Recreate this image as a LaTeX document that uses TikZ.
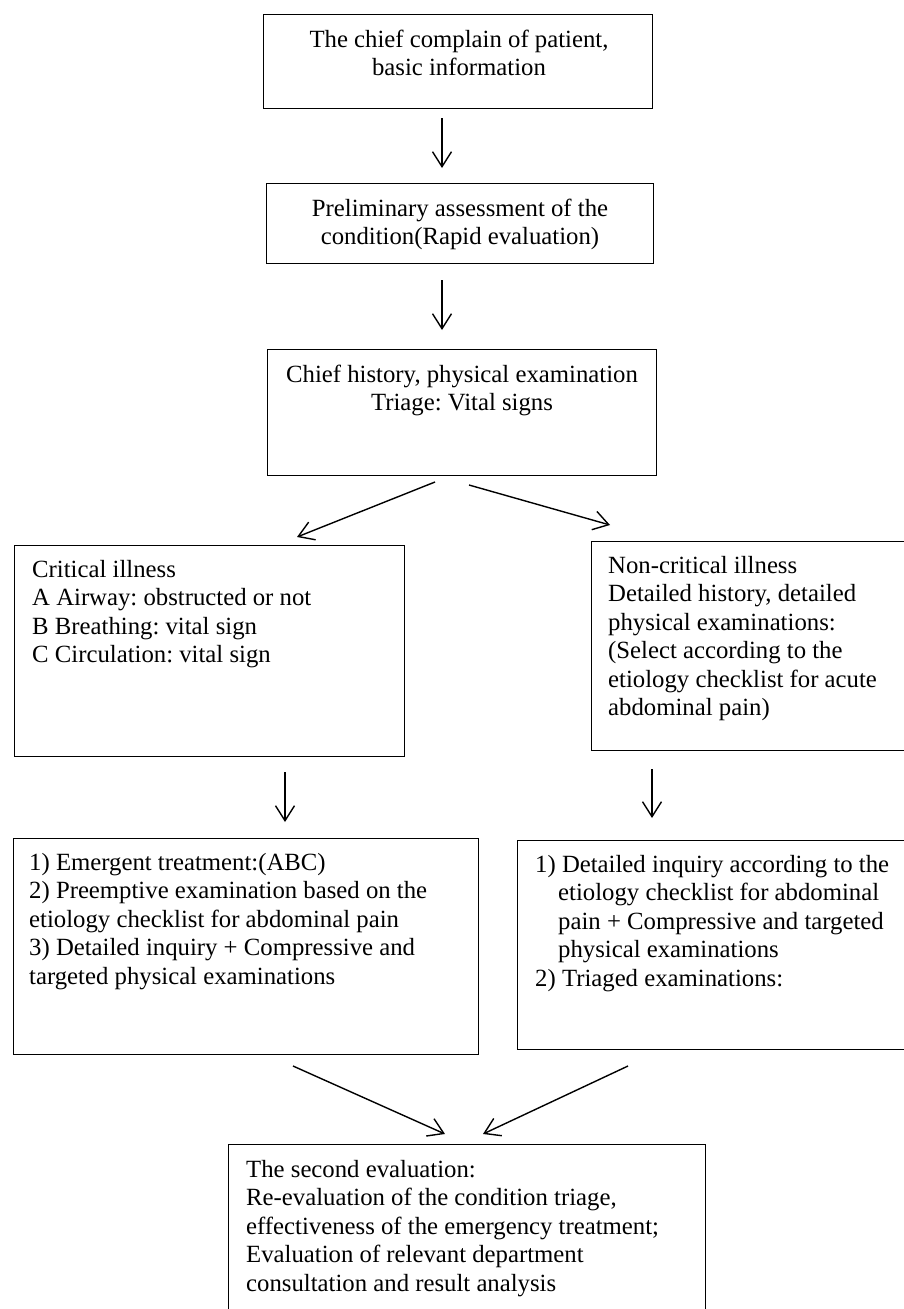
\documentclass[tikz,border=0pt]{standalone}
\usepackage{fontspec}
\setmainfont{Liberation Serif}
\usetikzlibrary{arrows.meta}
\frenchspacing
\begin{document}
\begin{tikzpicture}[x=1pt,y=-1pt,
  box/.style={draw, line width=1.4pt, rectangle, inner sep=0pt, anchor=north west},
  txt/.style={inner sep=0pt, font=\fontsize{24.75}{28.5}\selectfont\frenchspacing},
  arr/.style={line width=1.4pt, -{Straight Barb[length=15pt,width=19pt,line width=1.4pt]}}]
\clip (0,0) rectangle (904,1309);
\fill[white] (0,0) rectangle (904,1309);
% boxes
\node[box, minimum width=389pt, minimum height=94pt] (b1) at (263,14) {};
\node[box, minimum width=387pt, minimum height=80pt] (b2) at (266,183) {};
\node[box, minimum width=389pt, minimum height=126pt] (b3) at (267,349) {};
\node[box, minimum width=390pt, minimum height=211pt] (b4) at (14,545) {};
\node[box, minimum width=330pt, minimum height=209pt] (b5) at (591,541) {};
\node[box, minimum width=465pt, minimum height=216pt] (b6) at (13,838) {};
\node[box, minimum width=400pt, minimum height=209pt] (b7) at (517,840) {};
\node[box, minimum width=477pt, minimum height=200pt] (b8) at (228,1144) {};
% texts
\node[txt, anchor=north, align=center] (t1) at (459,27) {\strut The chief complain of patient,\\basic information};
\node[txt, anchor=north, align=center] (t2) at (460,196) {\strut Preliminary assessment of the\\condition(Rapid evaluation)};
\node[txt, anchor=north, align=center] (t3) at (462,362) {\strut Chief history, physical examination\\Triage: Vital signs};
\node[txt, anchor=north west, align=left] (t4) at (32,557) {\strut Critical illness\\A Airway: obstructed or not\\B Breathing: vital sign\\C Circulation: vital sign};
\node[txt, anchor=north west, align=left] (t5) at (608,553) {\strut Non-critical illness\\Detailed history, detailed\\physical examinations:\\(Select according to the\\etiology checklist for acute\\abdominal pain)};
\node[txt, anchor=north west, align=left] (t6) at (29,850) {\strut 1) Emergent treatment:(ABC)\\2) Preemptive examination based on the\\etiology checklist for abdominal pain\\3) Detailed inquiry + Compressive and\\targeted physical examinations};
\node[txt, anchor=north west, align=left] (t7) at (535,852) {\strut 1) Detailed inquiry according to the\\\hspace*{23pt}etiology checklist for abdominal\\\hspace*{23pt}pain + Compressive and targeted\\\hspace*{23pt}physical examinations\\2) Triaged examinations:};
\node[txt, anchor=north west, align=left] (t8) at (246,1157) {\strut The second evaluation:\\Re-evaluation of the condition triage,\\effectiveness of the emergency treatment;\\Evaluation of relevant department\\consultation and result analysis};
% arrow end points
\coordinate (a1s) at (442,118); \coordinate (a1e) at (442,168);
\coordinate (a2s) at (442,280); \coordinate (a2e) at (442,330);
\coordinate (a3s) at (435,482); \coordinate (a3e) at (297,537);
\coordinate (a4s) at (469,485); \coordinate (a4e) at (610,525);
\coordinate (a5s) at (285,772); \coordinate (a5e) at (285,822);
\coordinate (a6s) at (652,769); \coordinate (a6e) at (652,818);
\coordinate (a7s) at (293,1066); \coordinate (a7e) at (445,1134);
\coordinate (a8s) at (628,1066); \coordinate (a8e) at (483,1134);
\draw[arr] (a1s) -- (a1e);
\draw[arr] (a2s) -- (a2e);
\draw[arr] (a3s) -- (a3e);
\draw[arr] (a4s) -- (a4e);
\draw[arr] (a5s) -- (a5e);
\draw[arr] (a6s) -- (a6e);
\draw[arr] (a7s) -- (a7e);
\draw[arr] (a8s) -- (a8e);
\end{tikzpicture}
\end{document}
